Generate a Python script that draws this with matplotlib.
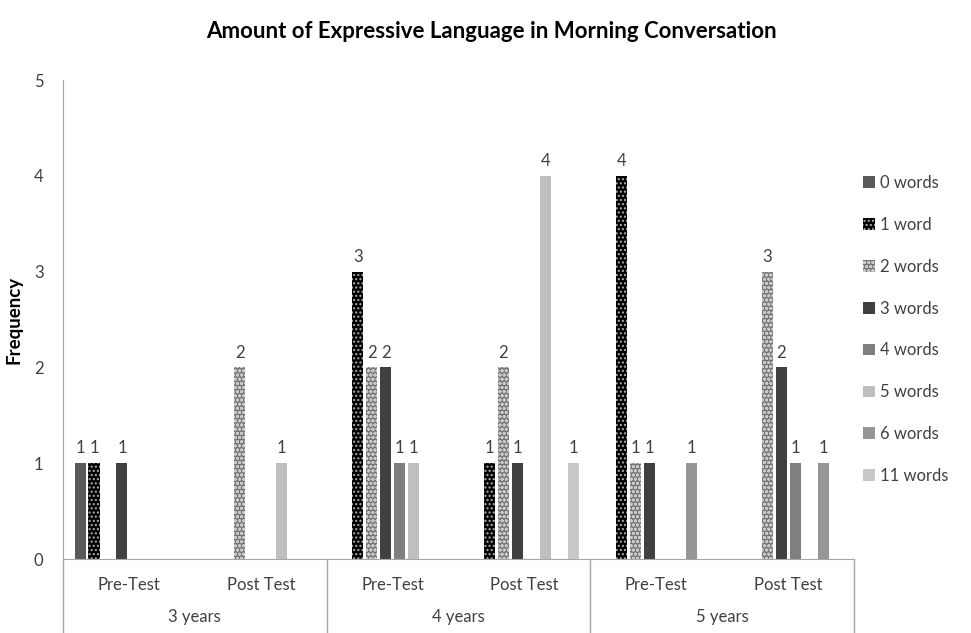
import numpy as np
import matplotlib.pyplot as plt
from matplotlib.lines import Line2D

plt.rcParams["font.family"] = ["Lato", "DejaVu Sans"]
plt.rcParams["hatch.linewidth"] = 1.0

# -----------------------------
# data
# -----------------------------
tests = ["Pre-Test", "Post Test", "Pre-Test", "Post Test", "Pre-Test", "Post Test"]
ages = ["3 years", "4 years", "5 years"]
series = ["0 words", "1 word", "2 words", "3 words", "4 words", "5 words", "6 words", "11 words"]

words_0 = [1, 0, 0, 0, 0, 0]
words_1 = [1, 0, 3, 1, 4, 0]
words_2 = [0, 2, 2, 2, 1, 3]
words_3 = [1, 0, 2, 1, 1, 2]
words_4 = [0, 0, 1, 0, 0, 1]
words_5 = [0, 1, 1, 4, 0, 0]
words_6 = [0, 0, 0, 0, 1, 1]
words_11 = [0, 0, 0, 1, 0, 0]

values = [words_0, words_1, words_2, words_3, words_4, words_5, words_6, words_11]

faces = ["#595959", "#000000", "#737373", "#404040", "#7f7f7f", "#bfbfbf", "#969696", "#c8c8c8"]
hatches = [None, "....", "oooo", None, None, None, None, None]
hatch_cols = ["none", "#b0b0b0", "#c8c8c8", "none", "none", "none", "none", "none"]

# -----------------------------
# figure
# -----------------------------
fig = plt.figure(figsize=(9.71, 6.33), dpi=100)
ax = fig.add_axes([0.0649, 0.1169, 0.8146, 0.7567])

x = np.arange(len(tests))
slot = 0.106
width = 0.0835
grey = "#a6a6a6"
txt = "#404040"

for i, (name, vals) in enumerate(zip(series, values)):
    vals = np.array(vals, dtype=float)
    xs = x + (i - 3.5) * slot
    mask = vals > 0
    ax.bar(xs[mask], vals[mask], width=width, color=faces[i], hatch=hatches[i],
           edgecolor=hatch_cols[i], linewidth=0, label=name)
    for xi, v in zip(xs[mask], vals[mask]):
        ax.text(xi, v + 0.07, f"{int(v)}", ha="center", va="bottom",
                fontsize=12, color=txt)

ax.set_xlim(-0.5, 5.5)
ax.set_ylim(0, 5)
ax.set_yticks(range(6))
ax.tick_params(axis="y", length=0, pad=14, labelsize=12, labelcolor=txt)
ax.set_xticks([])

for s in ["top", "right"]:
    ax.spines[s].set_visible(False)
ax.spines["left"].set_color(grey)
ax.spines["bottom"].set_color(grey)

# two-level category axis
bottom = -0.1169 / 0.7567
trans = ax.get_xaxis_transform()
for xd in [-0.5, 1.5, 3.5, 5.5]:
    ax.add_line(Line2D([xd, xd], [0, bottom], transform=trans, color=grey,
                       lw=1, clip_on=False))
for xi, t in zip(x, tests):
    ax.text(xi, -0.054, t, transform=trans, ha="center", va="center",
            fontsize=12, color=txt)
for k, a in enumerate(ages):
    ax.text(2 * k + 0.5, -0.121, a, transform=trans, ha="center", va="center",
            fontsize=12, color=txt)

ax.set_ylabel("Frequency", fontsize=13.5, fontweight="bold", color="black", labelpad=8)

fig.suptitle("Amount of Expressive Language in Morning Conversation",
             x=0.506, y=0.967, fontsize=16, fontweight="bold")

fig.legend(loc="upper left", bbox_to_anchor=(0.882, 0.734), frameon=False,
           fontsize=12, handlelength=0.7, handleheight=0.7, handletextpad=0.3,
           labelspacing=1.55, labelcolor=txt, borderaxespad=0)

plt.savefig("out.png", dpi=100)
plt.close()
